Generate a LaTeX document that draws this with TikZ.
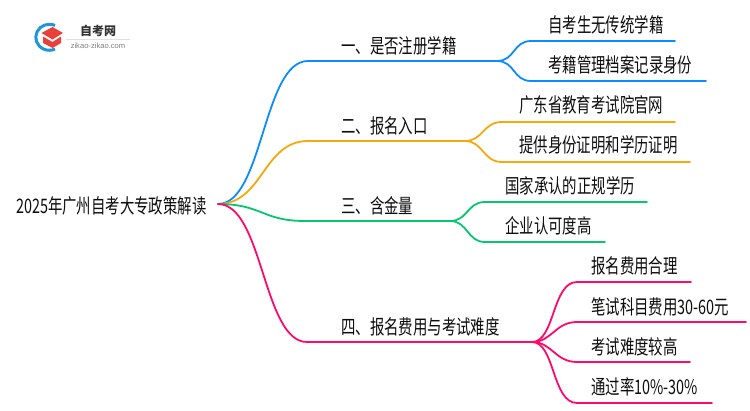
\documentclass[tikz,border=0pt]{standalone}
\usepackage{fontspec}
\setmainfont{Noto Sans CJK SC}[FakeStretch=0.72]
\newfontfamily\logofont{Noto Sans CJK SC}
\newfontfamily\latinfont{Liberation Sans}
\definecolor{cblue}{HTML}{0A8CFF}
\definecolor{corange}{HTML}{F7A80C}
\definecolor{cgreen}{HTML}{05C76E}
\definecolor{cpink}{HTML}{FF0A6C}
\definecolor{clogoblue}{HTML}{1E96DC}
\definecolor{clogored}{HTML}{E8403A}
\tikzset{
  lab/.style={anchor=base west,inner sep=0pt,font=\fontsize{20pt}{22pt}\selectfont,text=black!95},
  wire/.style={line width=1.8pt,line cap=round},
}
\begin{document}
\begin{tikzpicture}[x=1pt,y=-1pt]
\useasboundingbox (0,0) rectangle (750,410);
% logo
\draw[clogoblue,line width=3pt] (55,25.5) arc[start angle=-65,end angle=-295,x radius=13.5,y radius=13];
\fill[clogored] (52.5,27) -- (63,33) -- (52.5,39.5) -- (41.5,33) -- cycle;
\fill[clogored] (43,36.5) -- (52.5,42) -- (61,36.5) -- (61,43) -- (52.5,48) -- (43,43) -- cycle;
\node[inner sep=0pt,text=black!80,font=\fontsize{12pt}{14pt}\selectfont\logofont\bfseries] (logoa) at (98,31) {自考网};
\draw[black!12,line width=0.6pt] (66,39) -- (130,39);
\node[inner sep=0pt,text=black!50,font=\fontsize{7.6pt}{9pt}\selectfont\latinfont] (logob) at (98,45.5) {zikao-zikao.com};
% root
\node[lab] (root) at (16,213) {2025年广州自考大专政策解读};
\coordinate (o) at (218,204);
% junctions
\coordinate (b1) at (308,61); \coordinate (b2) at (497,61);
\coordinate (y1) at (308,141); \coordinate (y2) at (465,141);
\coordinate (g1) at (305,221); \coordinate (g2) at (450,221);
\coordinate (p1) at (307,342); \coordinate (p2) at (532,342);
% branch labels
\node[lab] (n1) at (341,53) {一、是否注册学籍};
\node[lab] (n2) at (341,133) {二、报名入口};
\node[lab] (n3) at (341,213) {三、含金量};
\node[lab] (n4) at (341,334) {四、报名费用与考试难度};
% leaves
\node[lab] (a1) at (548,32.5) {自考生无传统学籍};
\node[lab] (a2) at (548,72.5) {考籍管理档案记录身份};
\node[lab] (c1) at (519,112.5) {广东省教育考试院官网};
\node[lab] (c2) at (519,152.5) {提供身份证明和学历证明};
\node[lab] (d1) at (505,193) {国家承认的正规学历};
\node[lab] (d2) at (505,233.5) {企业认可度高};
\node[lab] (e1) at (591,273.5) {报名费用合理};
\node[lab] (e2) at (591,314) {笔试科目费用30-60元};
\node[lab] (e3) at (591,354) {考试难度较高};
\node[lab] (e4) at (591,394) {通过率10\%-30\%};
% connectors
\draw[wire,cblue] (o) .. controls (263,204) and (263,61) .. (b1) -- (b2);
\draw[wire,cblue] (b2) .. controls (515,61) and (513,41) .. (531,41) -- (675,41);
\draw[wire,cblue] (b2) .. controls (515,61) and (513,81) .. (531,81) -- (706,81);
\draw[wire,corange] (o) .. controls (263,204) and (263,141) .. (y1) -- (y2);
\draw[wire,corange] (y2) .. controls (483,141) and (483,122) .. (502,122) -- (675,122);
\draw[wire,corange] (y2) .. controls (483,141) and (483,162) .. (502,162) -- (690,162);
\draw[wire,cgreen] (o) .. controls (262,204) and (262,221) .. (g1) -- (g2);
\draw[wire,cgreen] (g2) .. controls (468,221) and (467,202) .. (485,202) -- (647,202);
\draw[wire,cgreen] (g2) .. controls (468,221) and (467,242) .. (485,242) -- (605,242);
\draw[wire,cpink] (o) .. controls (263,204) and (263,342) .. (p1) -- (p2);
\draw[wire,cpink] (p2) .. controls (555,342) and (552,282) .. (577,282) -- (691,282);
\draw[wire,cpink] (p2) .. controls (552,342) and (555,322) .. (577,322) -- (746,322);
\draw[wire,cpink] (p2) .. controls (552,342) and (555,362) .. (577,362) -- (690,362);
\draw[wire,cpink] (p2) .. controls (555,342) and (552,403) .. (577,403) -- (712,403);
\end{tikzpicture}
\end{document}
